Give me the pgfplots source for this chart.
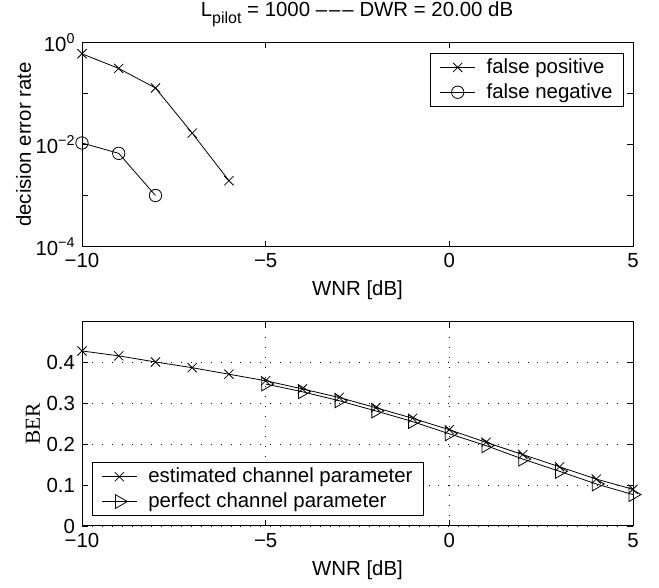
\documentclass[border=0pt]{standalone}
\usepackage{fontspec}
\setmainfont{Liberation Sans}
\newfontfamily\seriffont{Liberation Serif}
\usepackage{pgfplots}
\pgfplotsset{compat=1.18}
\newcommand{\fs}{\fontsize{20.4}{23}\selectfont}
\pgfplotsset{
  mstyle/.style={
    scale only axis, width=551pt, height=204pt,
    anchor=south west,
    xmin=-10, xmax=5, xtick={-10,-5,0,5}, xticklabels={−10,−5,0,5},
    tick align=inside, major tick length=6pt,
    axis line style={line width=1pt},
    every tick/.style={black, line width=0.8pt},
    tick label style={font=\fs},
    label style={font=\fs},
    xlabel style={at={(axis description cs:0.5,-0.215)}, anchor=center},
    legend cell align=left,
    legend style={font=\fs, draw=black, line width=1pt, inner xsep=9pt, inner ysep=3pt, row sep=3pt,
      /tikz/every odd column/.append style={column sep=9pt}},
    legend image code/.code={\draw[mark repeat=2,mark phase=2,#1] plot coordinates {(0pt,0pt)(17.5pt,0pt)(35pt,0pt)};},
    every axis plot/.append style={black, line width=0.8pt},
  }
}
\begin{document}
\fs
\begin{tikzpicture}
\useasboundingbox (0pt,0pt) rectangle (659pt,588pt);
\node[font=\fs, anchor=base] at (357pt,571pt) {L\raisebox{-0.6ex}{\fontsize{16}{18}\selectfont pilot} = 1000 –\kern2pt–\kern2pt– DWR = 20.00 dB};

\begin{axis}[mstyle, at={(82pt,341.5pt)},
  ymode=log, ymin=1e-4, ymax=1,
  ytick={1e-4,1e-3,1e-2,1e-1,1},
  yticklabels={10\textsuperscript{−4},,10\textsuperscript{−2},,10\textsuperscript{0}},
  yminorticks=false,
  ylabel={decision error rate},
  ylabel style={at={(axis description cs:-0.106,0.5)}, anchor=center},
  xlabel={WNR [dB]},
  legend style={at={(1,1)}, xshift=-9pt, yshift=-10.5pt, anchor=north east},
]
\addplot[mark=x, mark size=6.5pt, mark options={solid}] coordinates {
(-10,0.60) (-9,0.31) (-8,0.128) (-7,0.0167) (-6,0.00195)};
\addlegendentry{false positive}
\addplot[mark=o, mark size=6.2pt, mark options={solid}] coordinates {
(-10,0.0107) (-9,0.0067) (-8,0.0010)};
\addlegendentry{false negative}
\end{axis}

\begin{axis}[mstyle, at={(82pt,62pt)},
  ymin=0, ymax=0.5,
  ytick={0,0.1,0.2,0.3,0.4}, yticklabels={0,0.1,0.2,0.3,0.4},
  ylabel={\seriffont\fontsize{21.4}{24}\selectfont BER},
  ylabel style={at={(axis description cs:-0.089,0.5)}, anchor=center},
  xlabel={WNR [dB]},
  grid=major,
  major grid style={black, line width=0.7pt, dash pattern=on 0.9pt off 9pt},
  legend style={at={(0,0)}, xshift=10pt, yshift=10pt, anchor=south west},
]
\addplot[mark=x, mark size=6.5pt, mark options={solid}] coordinates {
(-10,0.429) (-9,0.417) (-8,0.402) (-7,0.388) (-6,0.372) (-5,0.356)
(-4,0.336) (-3,0.315) (-2,0.290) (-1,0.264) (0,0.236) (1,0.205)
(2,0.175) (3,0.145) (4,0.115) (5,0.090)};
\addlegendentry{estimated channel parameter}
\addplot[mark=triangle, mark size=8pt, mark options={solid, rotate=-90}] coordinates {
(-5,0.348) (-4,0.329) (-3,0.307) (-2,0.282) (-1,0.256) (0,0.226)
(1,0.197) (2,0.164) (3,0.134) (4,0.103) (5,0.077)};
\addlegendentry{perfect channel parameter}
\end{axis}
\end{tikzpicture}
\end{document}
